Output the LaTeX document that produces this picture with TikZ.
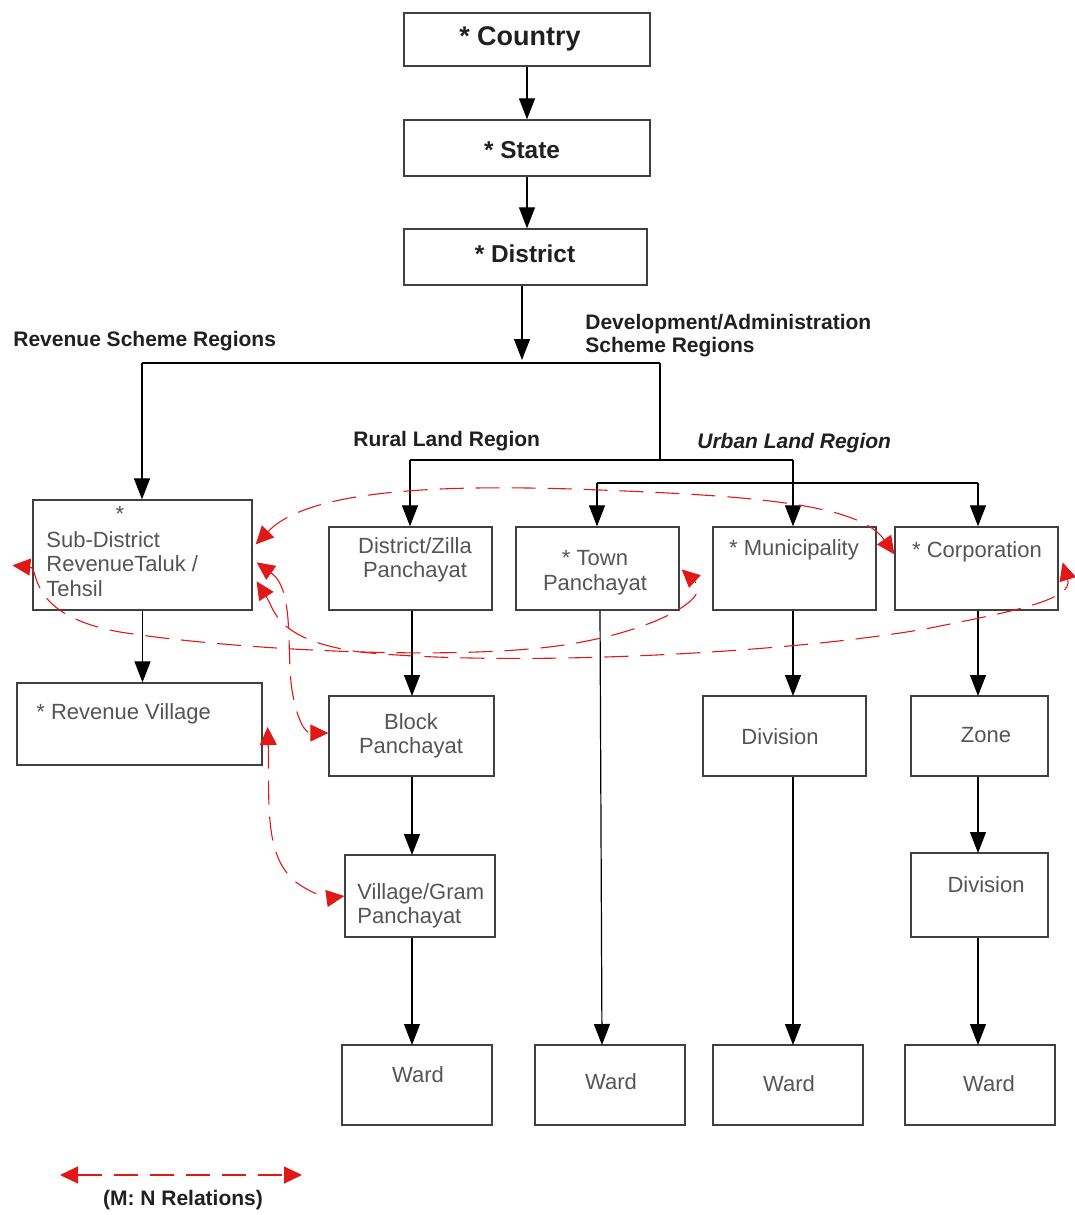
\documentclass[tikz,border=0pt]{standalone}
\usepackage{fontspec}
\setmainfont{Liberation Sans}
\usetikzlibrary{arrows.meta}

\definecolor{boxline}{HTML}{404040}
\definecolor{boxtext}{HTML}{555555}
\definecolor{headtext}{HTML}{202020}
\definecolor{mnred}{HTML}{E01818}

\tikzset{
  box/.style={draw=boxline, fill=white, line width=0.65pt, rectangle, inner sep=0pt},
  flow/.style={draw=black, line width=0.6pt, -{Triangle[length=10.5pt,width=8pt]}},
  link/.style={draw=black, line width=0.6pt},
  mn/.style={draw=mnred, line width=0.55pt, dash pattern=on 12pt off 6pt,
    {Triangle[length=9pt,width=8.5pt]}-{Triangle[length=9pt,width=8.5pt]}},
  boxlbl/.style={text=boxtext, font=\fontsize{11}{12.3}\selectfont, inner sep=0pt},
  headlbl/.style={text=headtext, font=\bfseries\fontsize{12.2}{14}\selectfont, inner sep=0pt},
  schemelbl/.style={text=headtext, font=\bfseries\fontsize{10.5}{11.5}\selectfont, inner sep=0pt, align=left},
}

% \mkbox{name}{x1}{y1}{x2}{y2}: empty rectangle spanning the given corners
\newcommand\mkbox[5]{%
  \pgfmathsetmacro\bw{(#4-#2)*0.5}%
  \pgfmathsetmacro\bh{(#5-#3)*0.5}%
  \node[box, minimum width=\bw pt, minimum height=\bh pt] (#1) at ({(#2+#4)/2},{(#3+#5)/2}) {};}

\begin{document}
\begin{tikzpicture}[x=0.5pt, y=-0.5pt]
\useasboundingbox (0,0) rectangle (1075,1215);

% ---- boxes ----
\mkbox{country}{404}{13}{650}{66}
\mkbox{state}{404}{120}{650}{176}
\mkbox{district}{404}{229}{647}{285}
\mkbox{subd}{33}{500}{252}{610}
\mkbox{revv}{17}{683}{262}{765}
\mkbox{zilla}{329}{527}{492}{610}
\mkbox{town}{516}{527}{679}{610}
\mkbox{muni}{713}{527}{876}{610}
\mkbox{corp}{895}{527}{1058}{610}
\mkbox{block}{329}{696}{494}{776}
\mkbox{gram}{345}{855}{495}{937}
\mkbox{divm}{703}{696}{866}{776}
\mkbox{zone}{911}{696}{1048}{776}
\mkbox{divc}{911}{853}{1048}{937}
\mkbox{wardA}{342}{1045}{492}{1125}
\mkbox{wardB}{535}{1045}{685}{1125}
\mkbox{wardC}{713}{1045}{863}{1125}
\mkbox{wardD}{905}{1045}{1055}{1125}

% ---- box texts ----
\node[headlbl, font=\bfseries\fontsize{13.5}{15}\selectfont] (tcountry) at (520,39) {* Country};
\node[headlbl] (tstate) at (522,150) {* State};
\node[headlbl] (tdistrict) at (525,254) {* District};

\node[boxlbl] (tsubdstar) at (120,514) {*};
\node[boxlbl, align=left, anchor=north west] (tsubd) at (46,531) {Sub-District\\RevenueTaluk /\\Tehsil};
\node[boxlbl, anchor=west] (trevv) at (36,714) {* Revenue Village};
\node[boxlbl, align=center] (tzilla) at (415,560) {District/Zilla\\Panchayat};
\node[boxlbl, align=center] (ttown) at (595,573) {* Town\\Panchayat};
\node[boxlbl] (tmuni) at (794,550) {* Municipality};
\node[boxlbl] (tcorp) at (977,552) {* Corporation};
\node[boxlbl, align=center] (tblock) at (411,736) {Block\\Panchayat};
\node[boxlbl, align=left, anchor=north west] (tgram) at (357,883) {Village/Gram\\Panchayat};
\node[boxlbl] (tdivm) at (780,737) {Division};
\node[boxlbl] (tzone) at (986,735) {Zone};
\node[boxlbl] (tdivc) at (986,885) {Division};
\node[boxlbl] (twardA) at (418,1075) {Ward};
\node[boxlbl] (twardB) at (611,1082) {Ward};
\node[boxlbl] (twardC) at (789,1084) {Ward};
\node[boxlbl] (twardD) at (989,1084) {Ward};

% ---- scheme labels ----
\node[schemelbl, anchor=west] (lrev) at (13,341) {Revenue Scheme Regions};
\node[schemelbl, anchor=north west] (ldev) at (585,314) {Development/Administration\\Scheme Regions};
\node[schemelbl, anchor=west] (lrural) at (353,441) {Rural Land Region};
\node[schemelbl, anchor=west, font=\bfseries\itshape\fontsize{10.5}{11.5}\selectfont] (lurban) at (697,443) {Urban Land Region};

% ---- hierarchy connectors ----
\coordinate (jl) at (142,363);
\coordinate (jr) at (660,363);
\coordinate (rj) at (660,460);
\coordinate (rl) at (410,460);
\coordinate (rr) at (793,460);
\coordinate (ul) at (597,483);
\coordinate (ur) at (978,483);

\draw[flow] (country.south) -- (state.north);
\draw[flow] (state.south) -- (state.south |- district.north);
\draw[flow] (district.south -| 522,0) -- (522,360);
\draw[link] (jl) -- (jr);
\draw[flow] (jl) -- (jl |- subd.north);
\draw[link] (jr) -- (rj);
\draw[link] (rl) -- (rr);
\draw[flow] (rl) -- (rl |- zilla.north);
\draw[flow] (rr) -- (rr |- muni.north);
\draw[link] (ul) -- (ur);
\draw[flow] (ul) -- (ul |- town.north);
\draw[flow] (ur) -- (ur |- corp.north);

\draw[flow] (subd.south) -- (subd.south |- revv.north);
\draw[flow] (zilla.south -| 412,0) -- (412,696);
\draw[flow] (block.south -| 412,0) -- (412,855);
\draw[flow] (gram.south -| 412,0) -- (412,1045);
\draw[flow] (town.south -| 600,0) -- (602,1045);
\draw[flow] (muni.south -| 793,0) -- (793,696);
\draw[flow] (divm.south -| 793,0) -- (793,1045);
\draw[flow] (corp.south -| 978,0) -- (978,696);
\draw[flow] (zone.south -| 978,0) -- (978,853);
\draw[flow] (divc.south -| 978,0) -- (978,1045);

% ---- M:N relations ----
\draw[mn] ([shift={(3,45)}]subd.north east) .. controls (310,488) and (450,484) .. (600,490)
  .. controls (760,496) and (860,505) .. ([shift={(0,28)}]corp.north west);
\draw[mn] ([shift={(-20,66)}]subd.north west) .. controls (40,568) and (25,615) .. (120,632)
  .. controls (220,648) and (420,660) .. (540,648)
  .. controls (640,638) and (715,600) .. ([shift={(2,43)}]town.north east);
\draw[mn] ([shift={(4,82)}]subd.north east) .. controls (275,610) and (275,640) .. (360,652)
  .. controls (520,668) and (800,652) .. (930,628)
  .. controls (1010,612) and (1074,600) .. ([shift={(4,36)}]corp.north east);
\draw[mn] ([shift={(4,63)}]subd.north east) .. controls (295,590) and (286,650) .. (292,690)
  .. controls (297,720) and (305,733) .. ([shift={(0,-3)}]block.west);
\draw[mn] ([shift={(5,3)}]revv.east) .. controls (270,800) and (262,860) .. (300,885)
  .. controls (315,895) and (330,898) .. (gram.west);

% ---- legend ----
\coordinate (lg1) at (60,1175);
\coordinate (lg2) at (302,1175);
\draw[mn] (lg1) -- (lg2);
\node[schemelbl] (lmn) at (183,1200) {(M: N Relations)};
\end{tikzpicture}
\end{document}
